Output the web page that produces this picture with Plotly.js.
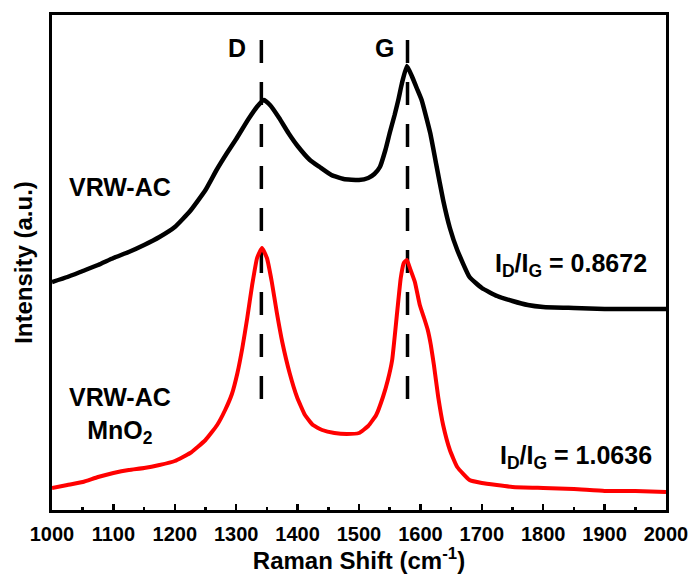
<!DOCTYPE html>
<html>
<head>
<meta charset="utf-8">
<script src="https://cdn.plot.ly/plotly-3.0.1.min.js"></script>
<style>
html,body{margin:0;padding:0;background:#fff;}
#chart{width:692px;height:574px;}
</style>
</head>
<body>
<div id="chart"></div>
<script>
// Raman shift (cm^-1) and intensity (a.u.) for VRW-AC
const shiftAC = [1000,1025,1050,1075,1100,1125,1150,1175,1200,1225,1250,1268,1285,1300,1320,1335,1345,1355,1370,1385,1400,1420,1436,1455,1475,1500,1515,1525,1534,1543,1550,1558,1564,1570,1578,1586,1594,1602,1616,1626,1637,1648,1660,1680,1700,1725,1750,1775,1800,1850,1900,1950,2000];
const intensityAC = [228,233,239,245,252,258,265,273,283,299,320,340,357,371,391,404,410,405,392,377,364,350,343,335,331,330,332,336,343,360,377,395,410,427,444,434,422,410,377,345,310,282,260,233,222,214,209,205,203,202,201,201,201];

// Raman shift (cm^-1) and intensity (a.u.) for VRW-AC MnO2
const shiftMn = [1000,1025,1050,1075,1100,1125,1150,1175,1200,1225,1250,1269,1282,1293,1302,1310,1318,1326,1334,1342,1350,1358,1366,1375,1387,1399,1412,1425,1440,1460,1480,1500,1515,1528,1539,1547,1554,1562,1568,1573,1578,1584,1591,1599,1606,1612,1617,1622,1629,1637,1648,1660,1680,1700,1750,1800,1850,1900,1950,2000];
const intensityMn = [22,25,28,33,37,40,42,45,49,57,70,85,100,116,137,162,192,225,252,262,252,228,198,168,137,113,95,85,80,77,76,77,84,95,113,130,150,197,232,247,250,240,228,205,192,180,165,145,113,85,60,43,30,27,23,22,21,19,19,18];

// Peak marker positions (cm^-1) and their vertical extent
const peakD = 1341;
const peakG = 1579;
const markerSpan = [470, 105];

const xTicks = [1000,1100,1200,1300,1400,1500,1600,1700,1800,1900,2000];
const ratioLabels = ['I<sub>D</sub>/I<sub>G</sub> = 0.8672', 'I<sub>D</sub>/I<sub>G</sub> = 1.0636'];

const F = 'Arial, "Liberation Sans", sans-serif';

const traces = [
  {x: [peakD, peakD], y: markerSpan, mode: 'lines', line: {color: '#000', width: 3.5, dash: '23px,19px'}, hoverinfo: 'skip', showlegend: false},
  {x: [peakG, peakG], y: markerSpan, mode: 'lines', line: {color: '#000', width: 3.5, dash: '23px,19px'}, hoverinfo: 'skip', showlegend: false},
  {x: shiftAC, y: intensityAC, mode: 'lines', line: {color: '#000', width: 4.5, shape: 'spline', smoothing: 0.4}, name: 'VRW-AC', showlegend: false},
  {x: shiftMn, y: intensityMn, mode: 'lines', line: {color: '#ff0000', width: 4, shape: 'spline', smoothing: 0.4}, name: 'VRW-AC MnO2', showlegend: false}
];

const annFont = {family: F, size: 25, color: '#000', weight: 'bold'};

const layout = {
  width: 692, height: 574,
  margin: {l: 52, r: 26, t: 15, b: 64},
  paper_bgcolor: '#fff', plot_bgcolor: '#fff',
  showlegend: false,
  xaxis: {
    range: [1000, 2000], tickvals: xTicks, ticktext: xTicks.map(String),
    ticks: 'inside', ticklen: 6, tickwidth: 2.5, tickcolor: '#000',
    minor: {dtick: 50, tick0: 1000, ticks: 'inside', ticklen: 3, tickwidth: 2.5, tickcolor: '#000', showgrid: false},
    showline: true, linecolor: '#000', linewidth: 3, mirror: true,
    showgrid: false, zeroline: false,
    ticklabelstandoff: 4,
    tickfont: {family: F, size: 20, color: '#000', weight: 'bold'},
    title: {text: 'Raman Shift (cm<sup>-1</sup>)', font: {family: F, size: 24, color: '#000', weight: 'bold'}, standoff: 6}
  },
  yaxis: {
    range: [0, 495], showticklabels: false, ticks: '',
    showline: true, linecolor: '#000', linewidth: 3, mirror: true,
    showgrid: false, zeroline: false,
    title: {text: 'Intensity (a.u.)', font: {family: F, size: 24, color: '#000', weight: 'bold'}, standoff: 10}
  },
  annotations: [
    {x: 1301, y: 462, text: 'D', showarrow: false, font: annFont},
    {x: 1541, y: 462, text: 'G', showarrow: false, font: annFont},
    {x: 1111, y: 323, text: 'VRW-AC', showarrow: false, font: annFont},
    {x: 1111, y: 95, text: 'VRW-AC<br>MnO<sub>2</sub>', showarrow: false, font: annFont, align: 'center'},
    {x: 1845, y: 245, text: ratioLabels[0], showarrow: false, font: annFont},
    {x: 1853, y: 53, text: ratioLabels[1], showarrow: false, font: annFont}
  ]
};

Plotly.newPlot('chart', traces, layout, {staticPlot: true, displayModeBar: false});
</script>
</body>
</html>
